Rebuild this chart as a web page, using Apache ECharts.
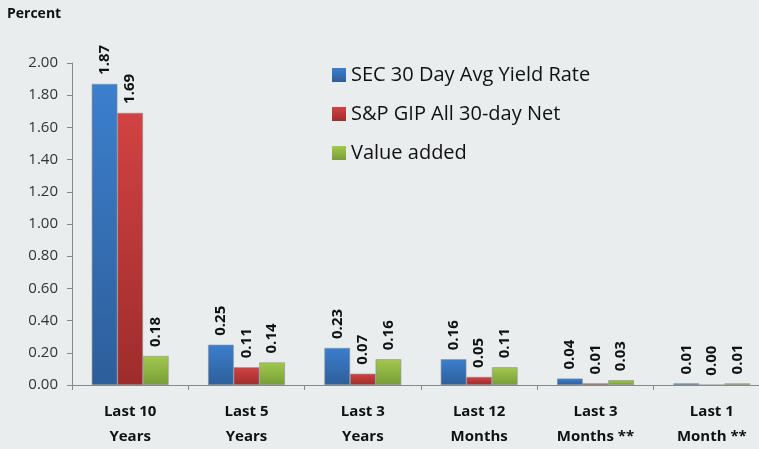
<!DOCTYPE html>
<html>
<head>
<meta charset="utf-8">
<script src="https://cdn.jsdelivr.net/npm/echarts@6/dist/echarts.min.js"></script>
<style>
  html, body { margin: 0; padding: 0; background: #eaeded; }
  #chart { width: 759px; height: 449px; }
</style>
</head>
<body>
<div id="chart"></div>
<script>
var categories = ['Last 10\nYears', 'Last 5\nYears', 'Last 3\nYears', 'Last 12\nMonths', 'Last 3\nMonths **', 'Last 1\nMonth **']
var secYield = [1.87, 0.25, 0.23, 0.16, 0.04, 0.01]
var spGip = [1.69, 0.11, 0.07, 0.05, 0.01, 0.00]
var valueAdded = [0.18, 0.14, 0.16, 0.11, 0.03, 0.01]
var seriesNames = ['SEC 30 Day Avg Yield Rate', 'S&P GIP All 30-day Net', 'Value added']

var font = '"Open Sans", "Noto Sans", sans-serif'

function grad(top, bottom) {
    return new echarts.graphic.LinearGradient(0, 0, 0, 1, [
        { offset: 0, color: top },
        { offset: 1, color: bottom }
    ])
}

function makeSeries(name, data, top, bottom) {
    return {
        name: name,
        type: 'bar',
        data: data,
        barGap: '0%',
        barCategoryGap: '34%',
        itemStyle: { color: grad(top, bottom), borderColor: '#8a9096', borderWidth: 0.6 },
        label: {
            show: true,
            position: 'top',
            rotate: 90,
            align: 'left',
            verticalAlign: 'middle',
            distance: 9,
            fontFamily: font,
            fontWeight: 'bold',
            fontSize: 15,
            color: '#111',
            formatter: function(p) { return p.value.toFixed(2) }
        }
    }
}

var chart = echarts.init(document.getElementById('chart'))
chart.setOption({
    backgroundColor: '#eaeded',
    animation: false,
    graphic: [{
        type: 'text', left: 7, top: 7,
        style: { text: 'Percent', font: 'bold 14px ' + font, fill: '#111' }
    }],
    legend: {
        orient: 'vertical',
        left: 327,
        top: 60,
        itemWidth: 14,
        itemHeight: 14,
        itemGap: 19,
        icon: 'rect',
        itemStyle: { borderWidth: 0 },
        textStyle: { fontFamily: font, fontSize: 20, color: '#111' },
        data: seriesNames
    },
    grid: { left: 72, top: 63, width: 698, bottom: 64, outerBoundsMode: 'none' },
    xAxis: {
        type: 'category',
        data: categories,
        axisLine: { lineStyle: { color: '#888' } },
        axisTick: { show: true, length: 5, lineStyle: { color: '#888' } },
        axisLabel: {
            fontFamily: font, fontWeight: 'bold', fontSize: 15, color: '#111',
            lineHeight: 25, margin: 14, interval: 0
        }
    },
    yAxis: {
        type: 'value',
        min: 0, max: 2, interval: 0.2,
        splitLine: { show: false },
        axisLine: { show: true, lineStyle: { color: '#888' } },
        axisTick: { show: true, length: 5, lineStyle: { color: '#888' } },
        axisLabel: {
            fontFamily: font, fontSize: 15, color: '#333', margin: 14,
            formatter: function(v) { return v.toFixed(2) }
        }
    },
    series: [
        makeSeries(seriesNames[0], secYield, '#3c7fcd', '#2d5e9a'),
        makeSeries(seriesNames[1], spGip, '#d24242', '#9e2c2c'),
        makeSeries(seriesNames[2], valueAdded, '#a2c84e', '#779e36')
    ]
})
</script>
</body>
</html>
